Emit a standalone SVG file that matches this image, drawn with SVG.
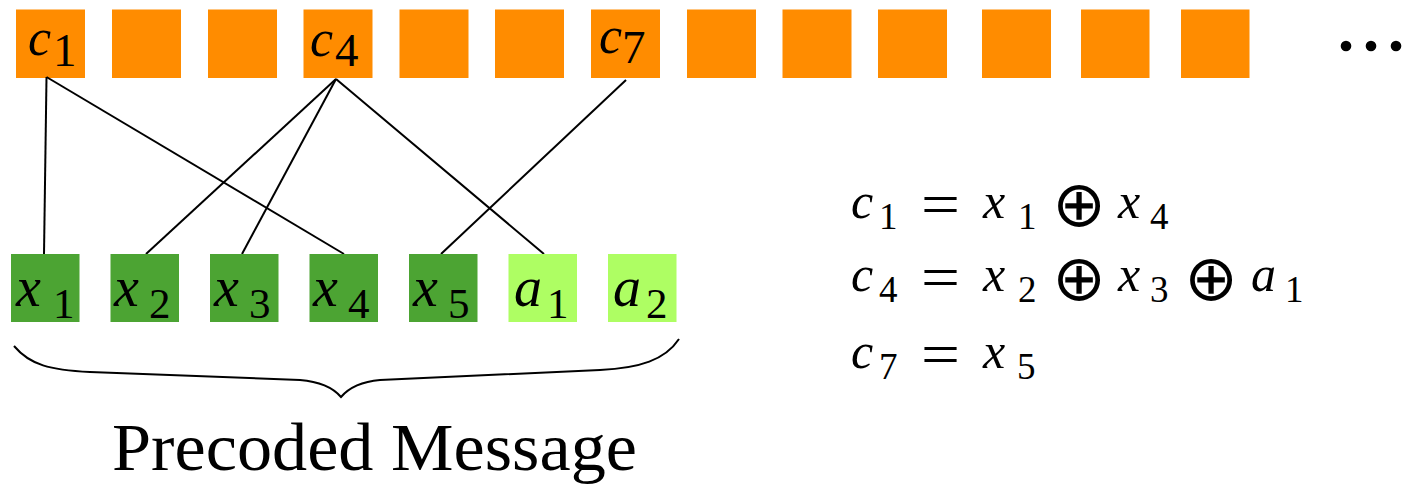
<svg xmlns="http://www.w3.org/2000/svg" width="1403" height="487" viewBox="0 0 1403 487">
<style>
.o{fill:#ff8c00}
.g{fill:#4ca433}
.lg{fill:#aefe63}
.m{font-family:"Liberation Serif","Times New Roman",serif;font-style:italic;fill:#000}
.d{font-family:"Liberation Serif","Times New Roman",serif;font-style:normal;fill:#000}
.op{font-family:"DejaVu Sans",sans-serif;font-size:64px;fill:#000;text-anchor:middle;dominant-baseline:central}
.eq{font-family:"Liberation Serif","Times New Roman",serif;font-size:60px;fill:#000}
.ln{stroke:#000;stroke-width:2;fill:none}
.cl{font-size:52px}
.cs{font-size:47px}
.xl{font-size:56px}
.xs{font-size:43px}
.el{font-size:50px}
.es{font-size:37px}
</style>
<g id="coded">
<g id="c1"><rect class="o" x="16" y="9.5" width="69" height="68.5"/><text class="m cl" x="28" y="55">c</text><text class="d cs" x="53" y="66">1</text></g>
<g id="c2"><rect class="o" x="112" y="9.5" width="69" height="68.5"/></g>
<g id="c3"><rect class="o" x="208" y="9.5" width="69" height="68.5"/></g>
<g id="c4"><rect class="o" x="303.5" y="9.5" width="69" height="68.5"/><text class="m cl" x="310" y="56">c</text><text class="d cs" x="335" y="66">4</text></g>
<g id="c5"><rect class="o" x="399.5" y="9.5" width="69" height="68.5"/></g>
<g id="c6"><rect class="o" x="495" y="9.5" width="69" height="68.5"/></g>
<g id="c7"><rect class="o" x="591" y="9.5" width="69" height="68.5"/><text class="m cl" x="599" y="53">c</text><text class="d cs" x="622" y="63">7</text></g>
<g id="c8"><rect class="o" x="687" y="9.5" width="69" height="68.5"/></g>
<g id="c9"><rect class="o" x="782.5" y="9.5" width="69" height="68.5"/></g>
<g id="c10"><rect class="o" x="878" y="9.5" width="69" height="68.5"/></g>
<g id="c11"><rect class="o" x="982" y="9.5" width="69" height="68.5"/></g>
<g id="c12"><rect class="o" x="1081" y="9.5" width="68.5" height="68.5"/></g>
<g id="c13"><rect class="o" x="1181" y="9.5" width="68.5" height="68.5"/></g>
<g id="ellipsis"><circle cx="1346" cy="46" r="5.3"/><circle cx="1371" cy="46" r="5.3"/><circle cx="1396" cy="46" r="5.3"/></g>
</g>
<g id="connectors">
<line class="ln" x1="46.5" y1="77" x2="44" y2="254"/>
<line class="ln" x1="46.5" y1="77" x2="344" y2="254"/>
<line class="ln" x1="336" y1="79" x2="146" y2="254"/>
<line class="ln" x1="336" y1="79" x2="242" y2="254"/>
<line class="ln" x1="336" y1="79" x2="544" y2="254"/>
<line class="ln" x1="626" y1="80" x2="441" y2="254"/>
</g>
<g id="message">
<g id="x1"><rect class="g" x="11" y="254" width="68.5" height="68"/><text class="m xl" x="16" y="306">x</text><text class="d xs" x="53" y="318">1</text></g>
<g id="x2"><rect class="g" x="110.5" y="254" width="68.5" height="68"/><text class="m xl" x="114" y="306">x</text><text class="d xs" x="149" y="318">2</text></g>
<g id="x3"><rect class="g" x="210" y="254" width="68.5" height="68"/><text class="m xl" x="214" y="306">x</text><text class="d xs" x="249" y="318">3</text></g>
<g id="x4"><rect class="g" x="309.5" y="254" width="68.5" height="68"/><text class="m xl" x="313" y="306">x</text><text class="d xs" x="348" y="318">4</text></g>
<g id="x5"><rect class="g" x="409" y="254" width="68.5" height="68"/><text class="m xl" x="413" y="306">x</text><text class="d xs" x="448" y="318">5</text></g>
<g id="a1"><rect class="lg" x="508.5" y="254" width="68.5" height="68"/><text class="m xl" x="514" y="306">a</text><text class="d xs" x="547" y="318">1</text></g>
<g id="a2"><rect class="lg" x="608" y="254" width="68.5" height="68"/><text class="m xl" x="613" y="306">a</text><text class="d xs" x="646" y="318">2</text></g>
</g>
<g id="brace">
<path class="ln" d="M14,346 C30,365 50,370 90,372 L300,380 C325,382 335,390 341,397 C347,390 357,382 380,380 L600,370 C640,368 665,360 679,339"/>
<text class="d" x="112" y="470" font-size="68" textLength="525" lengthAdjust="spacingAndGlyphs">Precoded Message</text>
</g>
<g id="equations">
<g id="eq1">
<text class="m el" x="851" y="218">c</text><text class="d es" x="879" y="229">1</text>
<text class="eq" x="921" y="224" textLength="39" lengthAdjust="spacingAndGlyphs">=</text>
<text class="m el" x="983" y="218">x</text><text class="d es" x="1018" y="229">1</text>
<text class="op" x="1079" y="204">⊕</text>
<text class="m el" x="1118" y="218">x</text><text class="d es" x="1150" y="229">4</text>
</g>
<g id="eq2">
<text class="m el" x="851" y="291">c</text><text class="d es" x="879" y="302">4</text>
<text class="eq" x="921" y="297" textLength="39" lengthAdjust="spacingAndGlyphs">=</text>
<text class="m el" x="983" y="291">x</text><text class="d es" x="1018" y="302">2</text>
<text class="op" x="1079" y="278">⊕</text>
<text class="m el" x="1118" y="291">x</text><text class="d es" x="1150" y="302">3</text>
<text class="op" x="1211" y="278">⊕</text>
<text class="m el" x="1251" y="291">a</text><text class="d es" x="1285" y="302">1</text>
</g>
<g id="eq3">
<text class="m el" x="851" y="368">c</text><text class="d es" x="879" y="379">7</text>
<text class="eq" x="921" y="374" textLength="39" lengthAdjust="spacingAndGlyphs">=</text>
<text class="m el" x="983" y="368">x</text><text class="d es" x="1017" y="379">5</text>
</g>
</g>
</svg>
